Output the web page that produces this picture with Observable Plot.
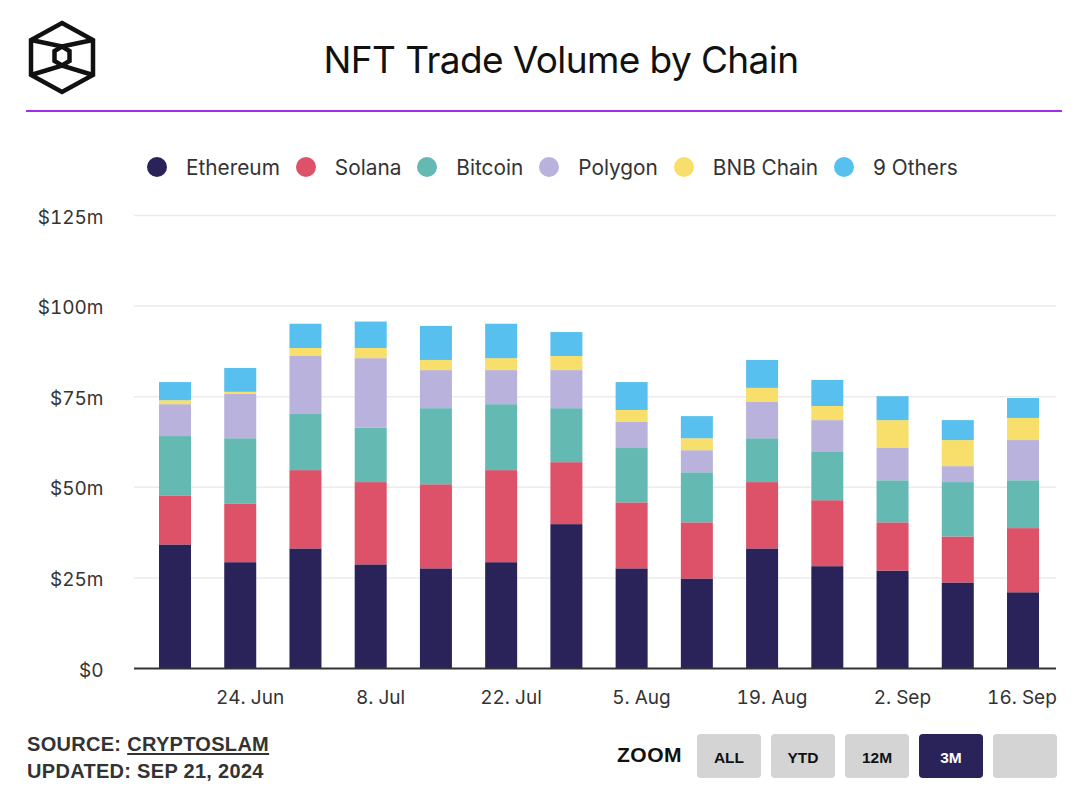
<!DOCTYPE html>
<html>
<head>
<meta charset="utf-8">
<script src="https://cdn.jsdelivr.net/npm/d3@7"></script>
<script src="https://cdn.jsdelivr.net/npm/@observablehq/plot@0.6"></script>
<style>
  html, body { margin: 0; padding: 0; background: #fff; }
  body { width: 1090px; height: 788px; position: relative; overflow: hidden; font-family: Inter, "Noto Sans", sans-serif; color: #333; }
  #logo { position: absolute; left: 0; top: 0; }
  #title { position: absolute; left: 561px; top: 41px; transform: translateX(-50%); font-size: 37px; line-height: 37px; letter-spacing: -0.6px; color: #111; white-space: nowrap; }
  #rule { position: absolute; left: 26px; top: 110px; width: 1036px; height: 2px; background: #a02ded; }
  #legend { position: absolute; left: 147px; top: 157px; height: 20px; display: flex; align-items: center; font-size: 20.8px; color: #333; white-space: nowrap; }
  .li { display: flex; align-items: center; margin-right: 16px; }
  .dot { width: 20px; height: 20px; border-radius: 50%; margin-right: 19px; }
  #chart { position: absolute; left: 0; top: 195px; }
  #source { position: absolute; left: 27px; top: 731px; font-family: "Liberation Sans", Arial, sans-serif; font-weight: bold; font-size: 20px; line-height: 26.5px; letter-spacing: 0.3px; color: #333; }
  #source u { text-decoration-thickness: 2px; text-underline-offset: 2px; }
  #zoomlbl { position: absolute; left: 617px; top: 742px; font-family: "Liberation Sans", Arial, sans-serif; font-weight: bold; font-size: 21px; line-height: 26px; letter-spacing: 0.5px; color: #111; }
  .btn { position: absolute; top: 734px; width: 64px; height: 44px; border-radius: 4px; background: #d4d4d4; font-family: "Liberation Sans", Arial, sans-serif; font-weight: bold; font-size: 15.5px; line-height: 48px; text-align: center; color: #111; }
  .btn.on { background: #2a2359; color: #fff; }
</style>
</head>
<body>
<svg id="logo" width="120" height="110">
  <g fill="none" stroke="#111" stroke-width="4.5" stroke-linejoin="miter">
    <path d="M62,23 L93,40 L93,75 L62,92 L31,75 L31,40 Z"/>
    <path d="M62,46.5 L69.5,51 L69.5,61 L62,65.5 L54.5,61 L54.5,51 Z"/>
    <path d="M31,40 L62,46.5 L93,40"/>
    <path d="M31,75 L62,65.5 L93,75"/>
  </g>
</svg>
<div id="title">NFT Trade Volume by Chain</div>
<div id="rule"></div>
<div id="legend"></div>
<div id="chart"></div>
<div id="source">SOURCE: <u>CRYPTOSLAM</u><br>UPDATED: SEP 21, 2024</div>
<div id="zoomlbl">ZOOM</div>
<div class="btn" style="left:697px">ALL</div>
<div class="btn" style="left:771px">YTD</div>
<div class="btn" style="left:845px">12M</div>
<div class="btn on" style="left:919px">3M</div>
<div class="btn" style="left:993px"></div>
<script>
// ---- data (US$ millions, weekly) ----
const weeks = ["2024-06-16","2024-06-23","2024-06-30","2024-07-07","2024-07-14","2024-07-21","2024-07-28",
               "2024-08-04","2024-08-11","2024-08-18","2024-08-25","2024-09-01","2024-09-08","2024-09-15"];
const chains = ["Ethereum","Solana","Bitcoin","Polygon","BNB Chain","9 Others"];
const colors = ["#2a2359","#dd5269","#64b9b2","#b8b2dc","#f8de6a","#58c0ef"];
const ethereum = [34.1, 29.2, 33.0, 28.6, 27.5, 29.2, 39.7, 27.5, 24.7, 33.0, 28.1, 26.9, 23.6, 20.9];
const solana   = [13.4, 16.1, 21.6, 22.7, 23.2, 25.4, 17.1, 18.2, 15.5, 18.3, 18.2, 13.3, 12.7, 17.7];
const bitcoin  = [16.5, 18.1, 15.5, 15.0, 21.0, 18.2, 14.9, 15.0, 13.8, 12.1, 13.3, 11.6, 15.0, 13.2];
const polygon  = [ 8.8, 12.2, 16.0, 19.2, 10.5,  9.4, 10.5,  7.2,  6.1, 10.0,  8.8,  8.9,  4.4, 11.1];
const bnb      = [ 1.1,  0.6,  2.2,  2.8,  2.8,  3.3,  3.9,  3.3,  3.3,  3.9,  3.9,  7.7,  7.2,  6.1];
const others   = [ 5.0,  6.6,  6.7,  7.3,  9.4,  9.5,  6.6,  7.7,  6.1,  7.7,  7.2,  6.6,  5.5,  5.5];
const series = [ethereum, solana, bitcoin, polygon, bnb, others];
const xTicks = ["2024-06-24","2024-07-08","2024-07-22","2024-08-05","2024-08-19","2024-09-02","2024-09-16"];
const yTicks = [0, 25, 50, 75, 100, 125];

// ---- table ----
const rows = [];
weeks.forEach((w, i) => chains.forEach((c, j) => rows.push({date: new Date(w), chain: c, value: series[j][i]})));

const DAY = 864e5;
const half = 1.717 * DAY;
const xDomain = [new Date(+new Date("2024-06-16") - 4.4 * DAY), new Date(+new Date("2024-09-15") + 3.54 * DAY)];
const fmt = d3.utcFormat("%-d. %b");
const xt = xTicks.map(d => new Date(d));

// legend
const lg = document.getElementById("legend");
chains.forEach((c, j) => {
  const el = document.createElement("div");
  el.className = "li";
  el.innerHTML = `<span class="dot" style="background:${colors[j]}"></span><span>${c}</span>`;
  lg.appendChild(el);
});

const chart = Plot.plot({
  width: 1090,
  height: 530,
  marginTop: 20,
  marginBottom: 57,
  marginLeft: 134,
  marginRight: 34,
  style: {fontFamily: "Inter, 'Noto Sans', sans-serif", fontSize: "19px", color: "#333", background: "transparent"},
  x: {type: "utc", domain: xDomain, label: null},
  y: {domain: [0, 125], label: null},
  color: {domain: chains, range: colors},
  marks: [
    Plot.ruleY(yTicks.filter(d => d > 0), {stroke: "#ebebeb", strokeWidth: 1.5}),
    Plot.rectY(rows, Plot.stackY({
      x: "date",
      x1: d => new Date(+d.date - half),
      x2: d => new Date(+d.date + half),
      y: "value",
      fill: "chain"
    })),
    Plot.ruleY([0], {stroke: "#333", strokeWidth: 2}),
    Plot.axisY(yTicks, {tickSize: 0, tickPadding: 31, dy: 2, label: null, tickFormat: d => d === 0 ? "$0" : `$${d}m`, fontSize: 19}),
    Plot.axisX(xt.slice(0, -1), {tickSize: 0, tickPadding: 22, label: null, tickFormat: fmt, fontSize: 19}),
    Plot.axisX(xt.slice(-1), {tickSize: 0, tickPadding: 22, label: null, tickFormat: fmt, fontSize: 19, textAnchor: "end", dx: 24})
  ]
});
document.getElementById("chart").appendChild(chart);
</script>
</body>
</html>
